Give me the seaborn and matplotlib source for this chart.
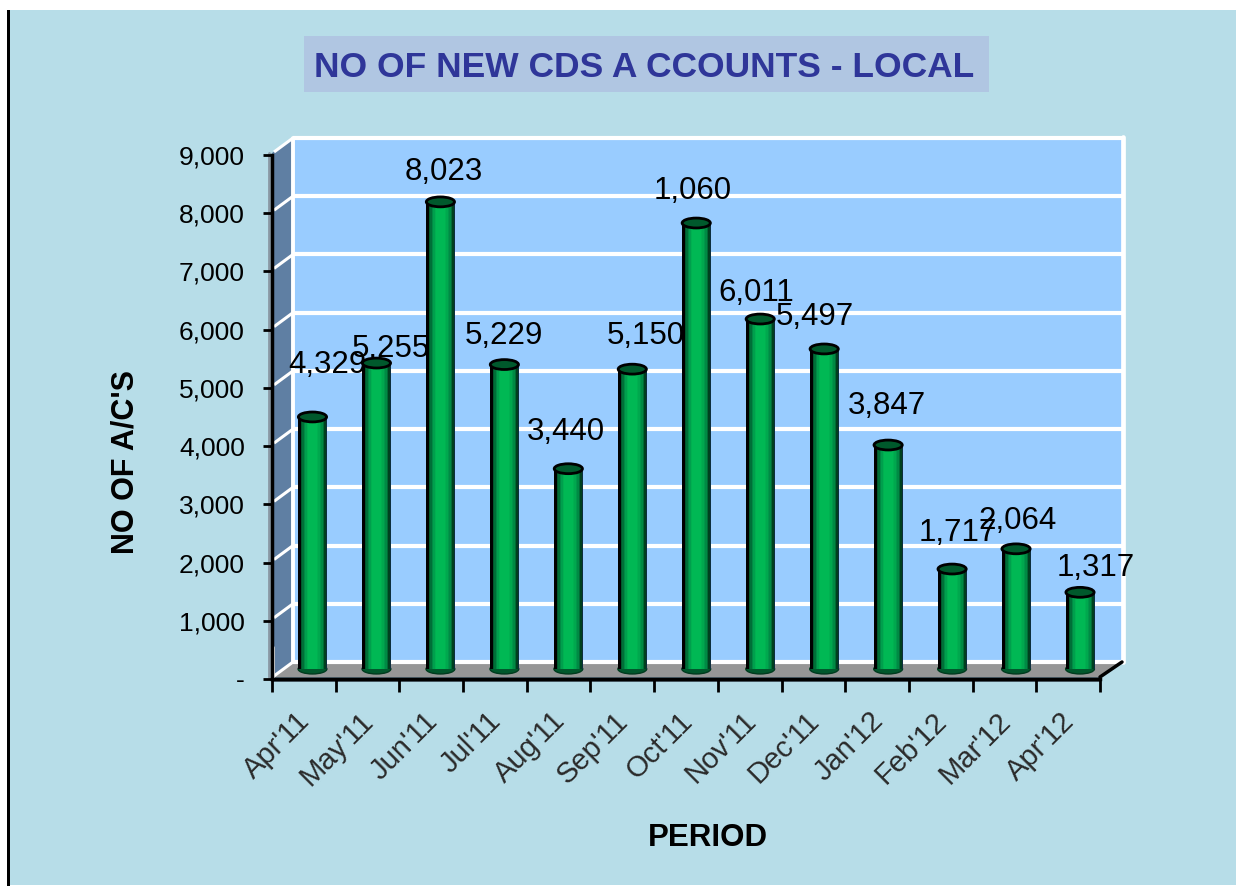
import numpy as np
import matplotlib
matplotlib.use("Agg")
import matplotlib.pyplot as plt
from matplotlib.patches import Polygon, Rectangle, Ellipse
from matplotlib.colors import to_rgb
from matplotlib.transforms import ScaledTranslation
import seaborn as sns

periods = ["Apr'11", "May'11", "Jun'11", "Jul'11", "Aug'11", "Sep'11", "Oct'11",
           "Nov'11", "Dec'11", "Jan'12", "Feb'12", "Mar'12", "Apr'12"]
accounts = [4329, 5255, 8023, 5229, 3440, 5150, 7660, 6011, 5497, 3847, 1717, 2064, 1317]
label_texts = ["4,329", "5,255", "8,023", "5,229", "3,440", "5,150", "1,060",
               "6,011", "5,497", "3,847", "1,717", "2,064", "1,317"]
y_ticks = [0, 1000, 2000, 3000, 4000, 5000, 6000, 7000, 8000, 9000]
title_text = "NO OF NEW CDS A CCOUNTS - LOCAL"

W, H = 1236, 886
sns.set_style("white")
plt.rcParams["font.family"] = ["Liberation Sans", "DejaVu Sans"]

fig = plt.figure(figsize=(W / 100, H / 100), dpi=100, facecolor="white")


def rect(l, t, r, b):
    return [l / W, 1 - b / H, (r - l) / W, (b - t) / H]


# layer 1: panel, walls, value labels (in pixel space)
bg = fig.add_axes([0, 0, 1, 1], zorder=0)
bg.set_xlim(0, W)
bg.set_ylim(H, 0)
bg.axis("off")
PANEL = "#B7DDE8"
bg.add_patch(Rectangle((10, 10), W - 10, H - 11, fc=PANEL, ec="none"))
bg.add_patch(Rectangle((7, 10), 3, H - 10, fc="black", ec="none"))
bg.add_patch(Rectangle((304, 36), 685, 56, fc="#B0C6E2", ec="none"))
bg.text(644, 67, title_text, ha="center", va="center", fontsize=25.5, fontweight="bold", color="#2F3699")

BL, BR, BT, BB = 293, 1122, 138, 662
FL, FR, FT, FB = 272, 1100, 153, 677
bg.add_patch(Rectangle((BL, BT), BR - BL, BB - BT, fc="#99CCFF", ec="none"))
bg.add_patch(Polygon([(FL, FT), (BL, BT), (BL, BB), (FL, FB)], fc="#5F7FA3", ec="none"))
bg.add_patch(Polygon([(FL, FB), (BL, BB), (BR, BB), (FR, FB)], fc="#969696", ec="none"))
bg.add_patch(Rectangle((FL, FB), FR - FL, 5, fc="#5A6E7A", ec="none"))
for v in y_ticks:
    y = BB - (BB - BT) * v / 9000
    bg.plot([BL, BR + 2], [y, y], color="white", lw=3.0, solid_capstyle="butt")
    bg.plot([FL + 2, BL], [y + 14, y], color="white", lw=2.2, solid_capstyle="butt")
bg.plot([BL, BL], [BT, BB], color="white", lw=2.8)
bg.plot([BR + 1, BR + 1], [BT - 1, BB], color="white", lw=3.4)
bg.plot([FL + 1, FL + 1], [FB, FB - 30], color="white", lw=2)
bg.plot([FR, BR], [FB, BB], color="black", lw=2.5)
bg.plot([FL - 3, FL - 3], [FT, FB], color="#8A98A4", lw=2)

label_xy = [(327, 365), (391, 349), (444, 172), (504, 336), (566, 432), (646, 336), (693, 191),
            (756, 293), (815, 317), (887, 406), (958, 533), (1017, 521), (1096, 568)]
for txt, (lx, ly) in zip(label_texts, label_xy):
    bg.text(lx, ly, txt, ha="center", va="center", fontsize=22.5, color="black")

# layer 2: front axis with ticks
ax = fig.add_axes(rect(FL, 155, FR, 679), zorder=1)
ax.patch.set_alpha(0)
ax.set_xlim(-0.5, len(periods) - 0.5)
ax.set_ylim(0, 9000)
ax.set_yticks(y_ticks)
ax.set_yticklabels(["-" if v == 0 else f"{v:,}" for v in y_ticks], fontsize=19, color="black")
ax.set_xticks(np.arange(len(periods) + 1) - 0.5)
ax.set_xticklabels([])
ax.set_xticks(np.arange(len(periods)), minor=True)
ax.set_xticklabels(periods, minor=True, rotation=45, ha="right", va="top",
                   rotation_mode="anchor", fontsize=21, color="#2A2A2A")
ax.tick_params(axis="y", length=6.5, width=2, color="black", pad=13, left=True)
ax.tick_params(axis="x", which="major", length=9, width=2, color="black", bottom=True)
ax.tick_params(axis="x", which="minor", length=0, pad=20)
shift = ScaledTranslation(-8 / 100, 0, fig.dpi_scale_trans)
for lab in ax.get_xticklabels(minor=True):
    lab.set_transform(lab.get_transform() + shift)
for s in ("top", "right"):
    ax.spines[s].set_visible(False)
for s in ("left", "bottom"):
    ax.spines[s].set_linewidth(2.5)
    ax.spines[s].set_color("black")
ax.set_ylabel("NO OF A/C'S", fontsize=22, fontweight="bold", color="black", labelpad=24)
ax.set_xlabel("PERIOD", fontsize=22.5, fontweight="bold", color="black", labelpad=0)
ax.xaxis.set_label_coords((708 - FL) / (FR - FL), -(838 - 679) / (679 - 155), transform=ax.transAxes)
ax.xaxis.label.set_va("center")
ax.yaxis.set_label_coords(-(FL - 126) / (FR - FL), (679 - 462) / (679 - 155), transform=ax.transAxes)
ax.yaxis.label.set_va("center")

# layer 3: the columns
ax_b = fig.add_axes(rect(280.5, 145, 1112, 669), zorder=2)
ax_b.patch.set_alpha(0)
sns.barplot(x=periods, y=accounts, ax=ax_b, color="#00B050", width=0.45, saturation=1)
ax_b.set_xlim(-0.5, len(periods) - 0.5)
ax_b.set_ylim(0, 9000)
ax_b.axis("off")

stops = ["#000000", "#000000", "#00582C", "#006F38", "#008A44", "#009F4D", "#00B050", "#00B854",
         "#00B854", "#00B854", "#00B854", "#00B854", "#00B854", "#00B050", "#00A84E",
         "#00984A", "#008A44", "#006B35", "#00401F", "#0D2E3E"]
grad = np.array([[to_rgb(c) for c in stops]])
CAP_H = 170   # depth of the cylinder's ellipse, in value units
for patch, val in zip(list(ax_b.patches), accounts):
    x0, w = patch.get_x(), patch.get_width()
    patch.set_visible(False)
    ax_b.add_patch(Ellipse((x0 + w / 2, 0), w, CAP_H, fc="#00582C", ec="#003B1E", lw=1, zorder=2, clip_on=False))
    ax_b.imshow(grad, extent=(x0, x0 + w, 0, val), aspect="auto", zorder=3, interpolation="nearest")
    ax_b.add_patch(Ellipse((x0 + w / 2, val), w * 0.98, CAP_H, fc="#00592C", ec="black", lw=2, zorder=4))
ax_b.set_xlim(-0.5, len(periods) - 0.5)
ax_b.set_ylim(0, 9000)

fig.savefig("out.png", dpi=100, facecolor="white")
